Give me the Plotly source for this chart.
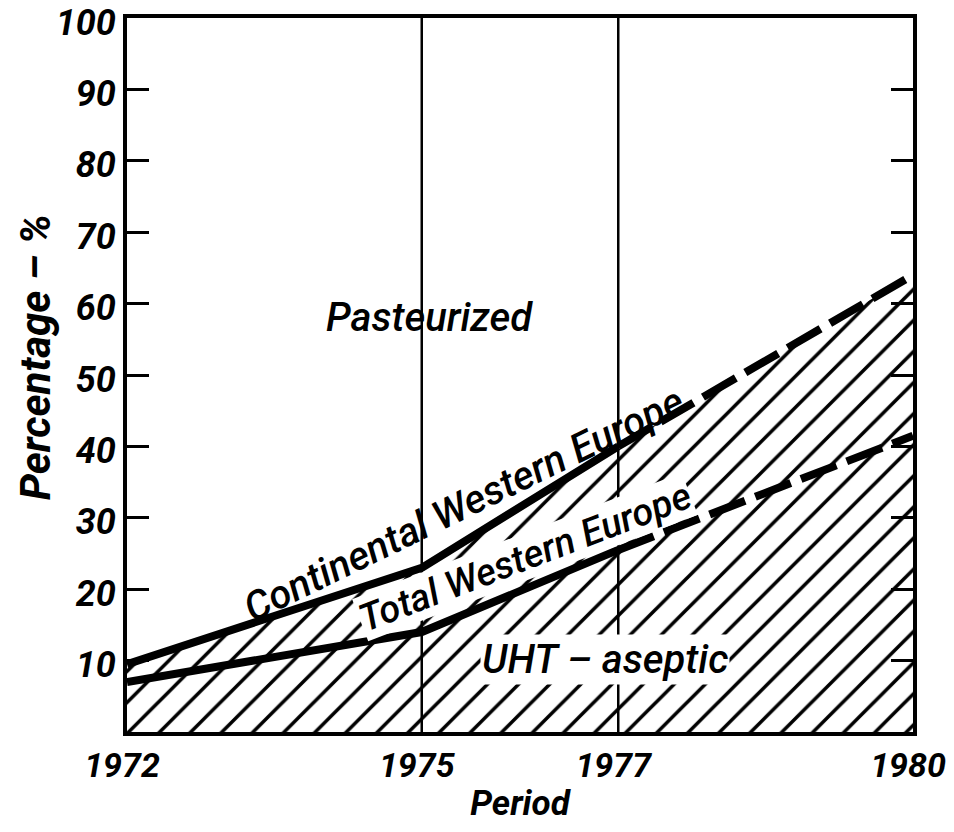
import plotly.graph_objects as go

years = [1972, 1975, 1977, 1980]
continental_we = [9.5, 23.0, 40.0, 64.0]
total_we = [7.0, 14.0, 25.5, 41.5]
divider_years = [1975, 1977]
y_ticks = [10, 20, 30, 40, 50, 60, 70, 80, 90, 100]
x_ticks = [1972, 1975, 1977, 1980]

FONT = "Roboto, DejaVu Sans, sans-serif"

fig = go.Figure()

# hatched area (UHT-aseptic share) under the upper curve
fig.add_trace(go.Scatter(
    x=years, y=continental_we, mode="lines", fill="tozeroy",
    line=dict(width=0, color="black"),
    fillcolor="white",
    fillpattern=dict(shape="/", fgcolor="black", fgopacity=1, bgcolor="white",
                     fillmode="replace", size=22, solidity=0.16),
    hoverinfo="skip", showlegend=False,
))

# vertical dividers
for yr in divider_years:
    fig.add_trace(go.Scatter(
        x=[yr, yr], y=[0, 100], mode="lines",
        line=dict(color="black", width=2.5), showlegend=False, hoverinfo="skip",
    ))

# curves: solid to 1977, dashed to 1980
for series in (continental_we, total_we):
    fig.add_trace(go.Scatter(
        x=years[:3], y=series[:3], mode="lines",
        line=dict(color="black", width=8), showlegend=False,
    ))
    fig.add_trace(go.Scatter(
        x=years[2:], y=series[2:], mode="lines",
        line=dict(color="black", width=8, dash="38px,11px"), showlegend=False,
    ))

ann_font = dict(family=FONT, size=40, color="black", style="italic", weight=500)
fig.add_annotation(x=1975.08, y=58.0, text="Pasteurized", showarrow=False, font=ann_font)
fig.add_annotation(x=1975.43, y=31.9, text="Continental Western Europe", showarrow=False,
                   font=ann_font, textangle=-26)
fig.add_annotation(x=1976.05, y=24.5, text="Total Western Europe", showarrow=False,
                   font=dict(ann_font, size=38), textangle=-21, bgcolor="white", borderpad=0)
fig.add_annotation(x=1976.87, y=10.1, text="UHT – aseptic", showarrow=False,
                   font=ann_font, bgcolor="white", borderpad=1)

tick_font = dict(family=FONT, size=36, color="black", style="italic", weight="bold")
title_font = dict(family=FONT, size=42, color="black", style="italic", weight="bold")

# y-axis title, placed in paper coordinates
fig.add_annotation(xref="paper", yref="paper", x=-0.117, y=0.525, text="Percentage – %",
                   xanchor="center", yanchor="middle",
                   textangle=-90, showarrow=False, font=title_font)

fig.update_layout(
    width=946, height=816,
    margin=dict(l=119, r=41, t=10, b=92, autoexpand=False),
    paper_bgcolor="white", plot_bgcolor="white",
    xaxis=dict(
        range=[1972, 1980], tickvals=x_ticks, ticktext=[str(v) for v in x_ticks],
        ticks="", showgrid=False, zeroline=False, automargin=False,
        ticklabeloverflow="allow", ticklabelshift=-5,
        showline=True, linecolor="black", linewidth=4, mirror=True,
        tickfont=dict(tick_font, size=34),
        title=dict(text="Period", font=dict(tick_font, size=35), standoff=11),
    ),
    yaxis=dict(
        range=[0, 100], tickvals=y_ticks, ticks="inside", ticklen=22, tickwidth=2.5,
        tickcolor="black", showgrid=False, zeroline=False, automargin=False,
        ticklabeloverflow="allow", ticklabelshift=4,
        showline=True, linecolor="black", linewidth=4, mirror="ticks",
        tickfont=tick_font,
    ),
)

fig.write_html("out.html")
